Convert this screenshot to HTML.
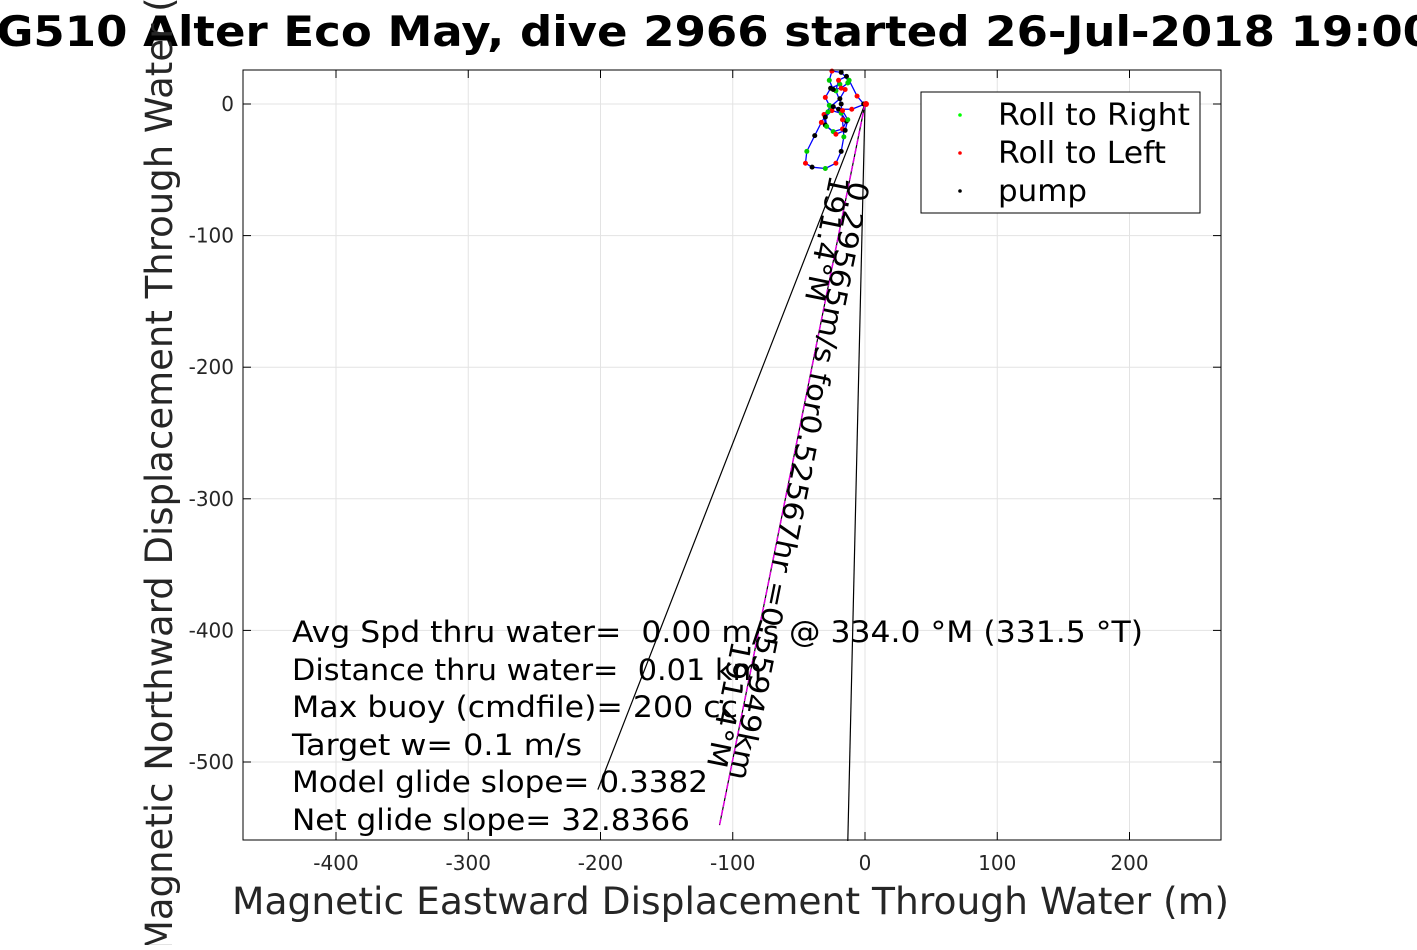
<!DOCTYPE html>
<html><head><meta charset="utf-8"><style>
body{margin:0;background:#fff;font-family:"Liberation Sans","DejaVu Sans",sans-serif}
svg text{font-family:"DejaVu Sans","Liberation Sans",sans-serif}
</style></head><body>
<svg id="c" width="1417" height="945" xmlns="http://www.w3.org/2000/svg">
<rect width="1417" height="945" fill="#fff"/>
<g id="grid"></g><g id="marks"></g><g id="axes"></g>
<text x="-36" y="46" textLength="1470" lengthAdjust="spacingAndGlyphs" font-size="42" font-weight="bold">SG510 Alter Eco May, dive 2966 started 26-Jul-2018 19:00</text>
<text x="232" y="914" textLength="997" lengthAdjust="spacingAndGlyphs" font-size="37" fill="#262626">Magnetic Eastward Displacement Through Water (m)</text>
<text transform="translate(172,952) rotate(-90)" textLength="1005" lengthAdjust="spacingAndGlyphs" font-size="37" fill="#262626">Magnetic Northward Displacement Through Water (m)</text>
<g font-size="29">
<text x="292" y="642" textLength="851" lengthAdjust="spacingAndGlyphs" xml:space="preserve">Avg Spd thru water=  0.00 m/s @ 334.0 °M (331.5 °T)</text>
<text x="292" y="680" textLength="470" lengthAdjust="spacingAndGlyphs" xml:space="preserve">Distance thru water=  0.01 km</text>
<text x="292" y="717" textLength="446" lengthAdjust="spacingAndGlyphs">Max buoy (cmdfile)= 200 cc</text>
<text x="292" y="755" textLength="290" lengthAdjust="spacingAndGlyphs">Target w= 0.1 m/s</text>
<text x="292" y="792" textLength="416" lengthAdjust="spacingAndGlyphs">Model glide slope= 0.3382</text>
<text x="292" y="830" textLength="398" lengthAdjust="spacingAndGlyphs">Net glide slope= 32.8366</text>
</g>
<g font-size="28">
<text transform="translate(850,180) rotate(101.4)" textLength="610" lengthAdjust="spacingAndGlyphs">0.29565m/s for0.52567hr =0.55949km</text>
<text transform="translate(830,174) rotate(101.4)" textLength="128" lengthAdjust="spacingAndGlyphs">191.4°M</text>
<text transform="translate(732,640) rotate(101.4)" textLength="128" lengthAdjust="spacingAndGlyphs">191.4°M</text>
</g>
<g>
<rect x="921" y="92" width="279" height="121" fill="#fff" stroke="#000" stroke-width="1"/>
<circle cx="960" cy="115" r="1.8" fill="#0f0"/><text x="998" y="125" font-size="30" textLength="192" lengthAdjust="spacingAndGlyphs">Roll to Right</text>
<circle cx="960" cy="153" r="1.8" fill="#f00"/><text x="998" y="163" font-size="30" textLength="168" lengthAdjust="spacingAndGlyphs">Roll to Left</text>
<circle cx="960" cy="191" r="1.8" fill="#000"/><text x="998" y="201" font-size="30" textLength="89" lengthAdjust="spacingAndGlyphs">pump</text>
</g>
</svg>
<script>
const xTicks=[-400,-300,-200,-100,0,100,200];
const yTicks=[0,-100,-200,-300,-400,-500];
const trackX=[0,-10,-20,-27,-30,-26,-19,-15,-19,-26,-31,-30,-24,-17,-14,-18,-25,-30,-29,-22,-15,-13,-17,-24,-28,-33,-38,-44,-45,-40,-30,-22,-18,-16,-17,-18,-22,-20,-14,-13,-18,-24,-27,-25,-18,-12,-6,-1];
const trackY=[0,-4,-4,-1,5,12,15,11,4,-2,-8,-16,-21,-19,-13,-7,-5,-10,-17,-23,-20,-12,-5,-2,-6,-14,-24,-36,-45,-48,-49,-45,-36,-25,-12,0,10,18,21,16,12,11,18,25,24,18,6,0];
const lineEndsX=[-202,-110,-13];
const lineEndsY=[-521,-548,-560];
const X=v=>865+v*1.3225, Y=v=>104-v*1.316;
const ns="http://www.w3.org/2000/svg";
function mk(tag,attrs,parent){const e=document.createElementNS(ns,tag);for(const k in attrs)e.setAttribute(k,attrs[k]);document.getElementById(parent).appendChild(e);return e;}
const L=243,R=1221,T=70,B=840;
mk('rect',{x:L,y:T,width:R-L,height:B-T,fill:'#fff'},'grid');
xTicks.forEach(t=>{const x=X(t);
 const g=mk('line',{x1:x,x2:x,y1:T,y2:B,stroke:'#e3e3e3','stroke-width':1},'grid');
 
 
 mk('line',{x1:x,x2:x,y1:B,y2:B-8,stroke:'#000'},'axes');
 mk('line',{x1:x,x2:x,y1:T,y2:T+8,stroke:'#000'},'axes');
 const tx=mk('text',{x:x,y:870,'text-anchor':'middle','font-size':20,fill:'#262626'},'axes');tx.textContent=t;
 
 
});
yTicks.forEach(t=>{const y=Y(t);
 const g=mk('line',{x1:L,x2:R,y1:y,y2:y,stroke:'#e3e3e3','stroke-width':1},'grid');
 
 
 mk('line',{x1:L,x2:L+8,y1:y,y2:y,stroke:'#000'},'axes');
 mk('line',{x1:R,x2:R-8,y1:y,y2:y,stroke:'#000'},'axes');
 const tx=mk('text',{x:234,y:y+7,'text-anchor':'end','font-size':20,fill:'#262626'},'axes');tx.textContent=t;
 
 
});
const fr=mk('rect',{x:L,y:T,width:R-L,height:B-T,fill:'none',stroke:'#000','stroke-width':1},'axes');


lineEndsX.forEach((v,i)=>{
 const l=mk('line',{x1:X(0),y1:Y(0),x2:X(v),y2:Y(lineEndsY[i]),stroke:'#000','stroke-width':1.2},'marks');
 
 
});
const m=mk('line',{x1:X(0),y1:Y(0),x2:X(lineEndsX[1]),y2:Y(lineEndsY[1]),stroke:'#e000e0','stroke-width':1.5,'stroke-dasharray':'6 3'},'marks');


const p=mk('polyline',{points:trackX.map((v,i)=>X(v)+','+Y(trackY[i])).join(' '),fill:'none',stroke:'#00f','stroke-width':1.3,'stroke-linejoin':'round'},'marks');


trackX.forEach((v,i)=>{
 const c=['#0c0','#f00','#000'][i%3];
 const d=mk('circle',{cx:X(v),cy:Y(trackY[i]),r:2.5,fill:c},'marks');
 
 
});
const o=mk('circle',{cx:X(0)+1,cy:Y(0),r:3,fill:'#f00'},'marks');


</script>
</body></html>
